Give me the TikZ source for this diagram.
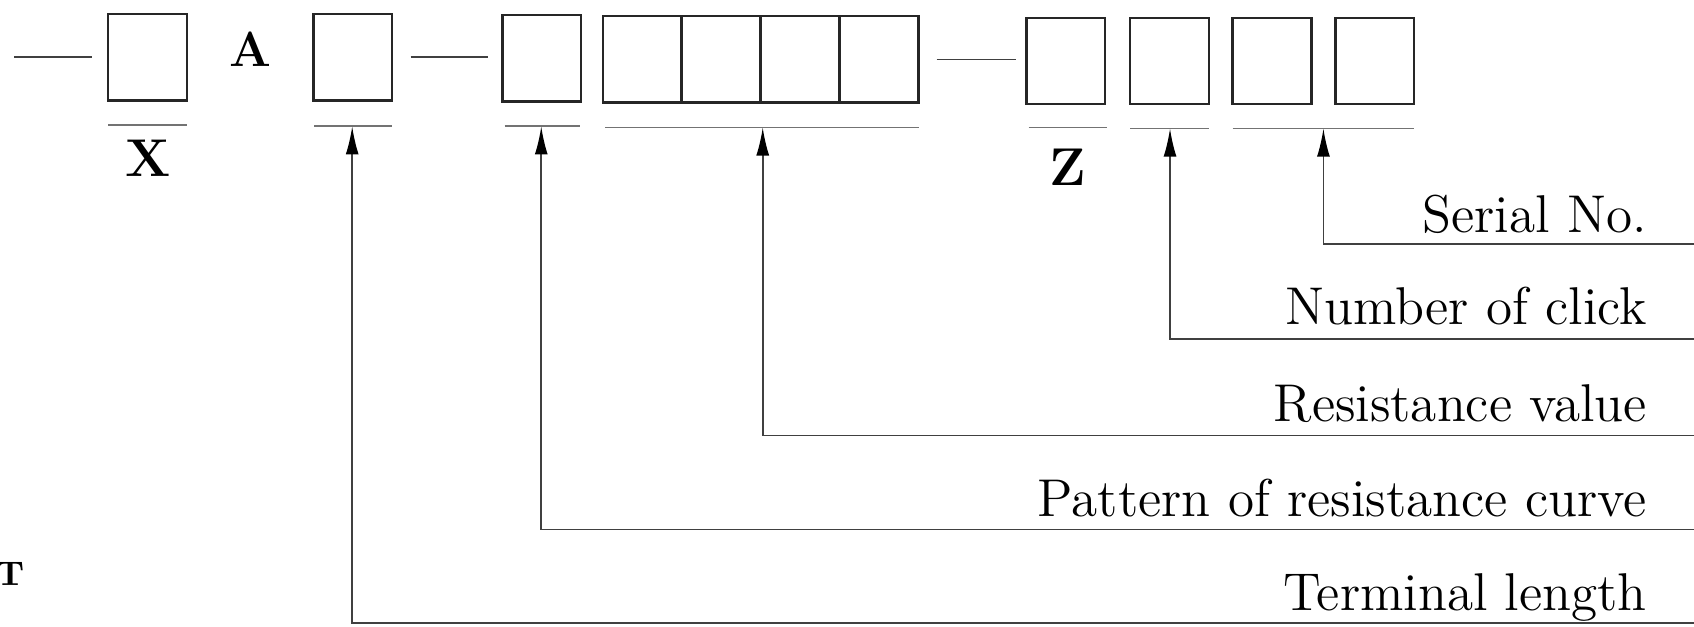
\documentclass[tikz,border=0pt]{standalone}
\usetikzlibrary{arrows.meta}

\tikzset{
  cell/.style={draw=black!85, line width=0.65pt, minimum width=0.73cm, minimum height=0.80cm, inner sep=0pt},
  uline/.style={black!55, line width=0.5pt},
  lead/.style={black!75, line width=0.45pt},
  callout/.style={font=\fontsize{14}{16}\selectfont, anchor=base east, inner sep=0pt},
  code/.style={font=\fontsize{14}{16}\selectfont\bfseries, anchor=base, inner sep=0pt},
}

\begin{document}
\begin{tikzpicture}
  \begin{scope}[x=0.01cm, y=-0.01cm, >={Latex[length=2.6mm,width=1.2mm,black]}]
    \useasboundingbox (0,0) rectangle (1568,580);
    % code boxes
    \node [cell] (bx) at (136.5,53) {};
    \node [code] (lx) at (137,163) {X};
    \node [code, font=\fontsize{13}{15}\selectfont\bfseries] (la) at (232,62) {A};
    \node [cell] (ba) at (326.5,53) {};
    \node [cell] (bp) at (501.5,54) {};
    \node [cell] (br1) at (594.5,55) {};
    \node [cell] (br2) at (667.5,55) {};
    \node [cell] (br3) at (740.5,55) {};
    \node [cell] (br4) at (813.5,55) {};
    \node [cell] (bz) at (986.5,56.5) {};
    \node [code] (lz) at (988,172) {Z};
    \node [cell] (bc) at (1082.5,56.5) {};
    \node [cell] (bs1) at (1177.5,56.5) {};
    \node [cell] (bs2) at (1272.5,56.5) {};
    \node [font=\fontsize{9}{10}\selectfont\bfseries] (lt) at (10,531) {T};
    % dashes
    \draw [lead] (13,53) -- (85,53);
    \draw [lead] (380,53) -- (452,53);
    \draw [lead] (867,55) -- (940,55);
    % underlines
    \draw [uline] (100,116) -- (173,116);
    \draw [uline] (291,117) -- (363,117);
    \draw [uline] (467,117) -- (537,117);
    \draw [uline] (560,118) -- (851,118);
    \draw [uline] (952,118) -- (1025,118);
    \draw [uline] (1046,119) -- (1119,119);
    \draw [uline] (1141,119) -- (1309,119);
    \coordinate (ua) at (326,117);
    \coordinate (up) at (501,117);
    \coordinate (ur) at (706,118);
    \coordinate (uc) at (1083,119);
    \coordinate (us) at (1225,119);
    % call-out lines
    \coordinate (es) at (1568,226);
    \coordinate (ec) at (1568,314);
    \coordinate (er) at (1568,403);
    \coordinate (ep) at (1568,490);
    \coordinate (ea) at (1568,577);
    \draw [lead, ->] (es) -| (us);
    \draw [lead, ->] (ec) -| (uc);
    \draw [lead, ->] (er) -| (ur);
    \draw [lead, ->] (ep) -| (up);
    \draw [lead, ->] (ea) -| (ua);
    \node [callout] (ts) at (1525,215) {Serial No.};
    \node [callout] (tc) at (1525,300) {Number of click};
    \node [callout] (tr) at (1525,390) {Resistance value};
    \node [callout] (tp) at (1525,478) {Pattern of resistance curve};
    \node [callout] (ta) at (1525,565) {Terminal length};
  \end{scope}
\end{tikzpicture}
\end{document}
